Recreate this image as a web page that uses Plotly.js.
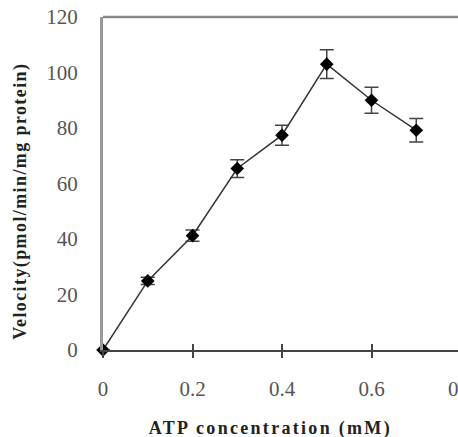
<!DOCTYPE html>
<html>
<head>
<meta charset="utf-8">
<script src="https://cdn.plot.ly/plotly-3.0.1.min.js"></script>
<style>
  html, body { margin: 0; padding: 0; background: #fff; overflow: hidden; }
  #chart { width: 480px; height: 437px; }
  g.annotation[data-index="0"] text { letter-spacing: 2.3px; }
  g.annotation[data-index="1"] text { letter-spacing: 1.4px; }
</style>
</head>
<body>
<div id="chart"></div>
<script>
// Data
const atpConc = [0, 0.1, 0.2, 0.3, 0.4, 0.5, 0.6, 0.7];
const velocity = [0, 24.9, 41.2, 65.4, 77.4, 103.0, 90.0, 79.2];
const velocityErr = [0, 1.3, 2.0, 3.2, 3.6, 5.2, 4.7, 4.2];
const xTickVals = [0, 0.2, 0.4, 0.6, 0.8];
const yTickVals = [0, 20, 40, 60, 80, 100, 120];
const xTitle = "ATP concentration (mM)";
const yTitle = "Velocity(pmol/min/mg protein)";

const serif = "Liberation Serif, Times New Roman, serif";

const trace = {
  x: atpConc,
  y: velocity,
  type: "scatter",
  mode: "lines+markers",
  line: { color: "#333", width: 1.5 },
  marker: { symbol: "diamond", size: 10.5, color: "#000" },
  error_y: { type: "data", array: velocityErr, visible: true, color: "#444", thickness: 1.5, width: 7 },
  showlegend: false,
  cliponaxis: false
};

// invisible helper trace to host the inward half of the x ticks
const helper = {
  x: [0], y: [0], xaxis: "x2", yaxis: "y", type: "scatter", mode: "markers",
  marker: { opacity: 0 }, showlegend: false, hoverinfo: "skip"
};

const layout = {
  width: 480,
  height: 437,
  margin: { l: 103, r: 18.5, t: 17, b: 87.3 },
  paper_bgcolor: "#fff",
  plot_bgcolor: "#fff",
  xaxis: {
    range: [0, 0.8],
    tickvals: xTickVals,
    ticktext: xTickVals.map(v => String(v)),
    showgrid: false, zeroline: false,
    showline: true, linecolor: "#444", linewidth: 2,
    ticks: "outside", ticklen: 6, tickwidth: 2, tickcolor: "#444",
    ticklabelstandoff: 13,
    tickfont: { family: serif, size: 21, color: "#555" }
  },
  xaxis2: {
    range: [0, 0.8], overlaying: "x", anchor: "y",
    tickvals: xTickVals, showticklabels: false,
    showgrid: false, zeroline: false, showline: false,
    ticks: "inside", ticklen: 6, tickwidth: 2, tickcolor: "#444"
  },
  yaxis: {
    range: [0, 120],
    tickvals: yTickVals,
    showgrid: false, zeroline: false,
    showline: true, linecolor: "#999", linewidth: 3,
    ticks: "", ticklabelstandoff: 18,
    tickfont: { family: serif, size: 21, color: "#555" }
  },
  shapes: [
    { type: "line", xref: "paper", yref: "paper", x0: 0, x1: 1, y0: 1, y1: 1,
      line: { color: "#888", width: 2.5 } }
  ],
  annotations: [
    { text: xTitle, xref: "paper", yref: "paper", x: 0.468, y: -0.235,
      xanchor: "center", yanchor: "middle", showarrow: false,
      font: { family: serif, size: 18, color: "#222", weight: "bold" } },
    { text: yTitle, xref: "paper", yref: "paper", x: -0.2315, y: 0.4465,
      xanchor: "center", yanchor: "middle", showarrow: false, textangle: -90,
      font: { family: serif, size: 18, color: "#222", weight: "bold" } }
  ]
};

Plotly.newPlot("chart", [trace, helper], layout, { staticPlot: true, displayModeBar: false });
</script>
</body>
</html>
